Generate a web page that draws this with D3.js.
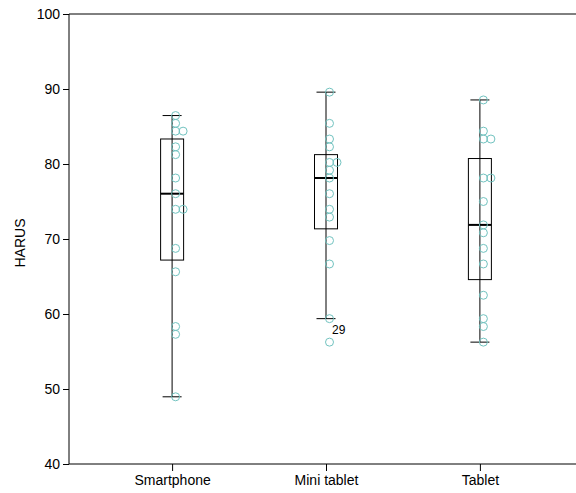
<!DOCTYPE html>
<html>
<head>
<meta charset="utf-8">
<script src="https://cdn.jsdelivr.net/npm/d3@7"></script>
<style>
  html, body { margin: 0; padding: 0; background: #fff; }
  svg { display: block; }
  text { font-family: "Liberation Sans", Arial, sans-serif; fill: #000; }
</style>
</head>
<body>
<svg id="chart" width="576" height="493"></svg>
<script>
// Device groups and HARUS scores per respondent
const categories = ["Smartphone", "Mini tablet", "Tablet"];
const smartphoneScores = [86.46, 85.42, 84.38, 84.38, 82.29, 81.25, 78.13, 76.04, 73.96, 73.96, 68.75, 65.63, 58.33, 57.29, 48.96];
const miniTabletScores = [89.58, 85.42, 83.33, 82.29, 80.21, 80.21, 79.17, 78.13, 76.04, 73.96, 72.92, 69.79, 66.67, 59.38, 56.25];
const tabletScores     = [88.54, 84.38, 83.33, 83.33, 78.13, 78.13, 75.00, 71.88, 70.83, 68.75, 66.67, 62.50, 59.38, 58.33, 56.25];
// Case numbers for the scores above (used to label outliers)
const miniTabletCases  = [17, 21, 25, 2, 5, 9, 12, 14, 18, 22, 27, 30, 24, 3, 29];
const yTicks = [40, 50, 60, 70, 80, 90, 100];
const yLabel = "HARUS";

const groups = [
  { name: categories[0], values: smartphoneScores, cases: null },
  { name: categories[1], values: miniTabletScores, cases: miniTabletCases },
  { name: categories[2], values: tabletScores, cases: null }
];

const svg = d3.select("#chart");
const mLeft = 69, mTop = 14, mBottom = 464, mRight = 583;

const y = d3.scaleLinear().domain([40, 100]).range([mBottom, mTop]);
const x = d3.scalePoint().domain(categories).range([mLeft, mRight]).padding(0.67);

// Tukey hinges: median of each half, each half including the median
function tukey(vals) {
  const s = vals.slice().sort(d3.ascending);
  const n = s.length;
  const half = Math.floor((n + 1) / 2);
  const med = d3.median(s);
  const lo = d3.median(s.slice(0, half));
  const hi = d3.median(s.slice(n - half));
  const iqr = hi - lo;
  const inside = s.filter(v => v >= lo - 1.5 * iqr && v <= hi + 1.5 * iqr);
  return { med, lo, hi, wLo: d3.min(inside), wHi: d3.max(inside), fenceLo: lo - 1.5 * iqr, fenceHi: hi + 1.5 * iqr };
}

// Axes
const yAxis = d3.axisLeft(y).tickValues(yTicks).tickSize(6).tickPadding(3).tickFormat(d3.format("d"));
const gy = svg.append("g").attr("transform", `translate(${mLeft},0)`).call(yAxis);
gy.select(".domain").remove();
gy.selectAll("line").attr("stroke", "#000");
gy.selectAll("text").style("font-size", "14px").attr("fill", "#000");

const xAxis = d3.axisBottom(x).tickSize(7).tickPadding(4);
const gx = svg.append("g").attr("transform", `translate(0,${mBottom})`).call(xAxis);
gx.select(".domain").remove();
gx.selectAll("line").attr("stroke", "#000");
gx.selectAll("text").style("font-size", "14px").attr("fill", "#000");

// Frame lines
svg.append("line").attr("x1", mLeft).attr("x2", mRight).attr("y1", y(100)).attr("y2", y(100)).attr("stroke", "#000");
svg.append("line").attr("x1", mLeft).attr("x2", mRight).attr("y1", y(40)).attr("y2", y(40)).attr("stroke", "#000");
svg.append("line").attr("x1", mLeft).attr("x2", mLeft).attr("y1", y(100)).attr("y2", y(40)).attr("stroke", "#000");

// Y axis title
svg.append("text")
  .attr("transform", `translate(25,${(mTop + mBottom) / 2 + 4}) rotate(-90)`)
  .attr("text-anchor", "middle")
  .style("font-size", "14px")
  .text(yLabel);

const boxHalf = 11.5, capHalf = 9.5;

groups.forEach(g => {
  const cx = x(g.name);
  const st = tukey(g.values);
  const gg = svg.append("g");

  // whisker
  gg.append("line").attr("x1", cx).attr("x2", cx).attr("y1", y(st.wLo)).attr("y2", y(st.wHi)).attr("stroke", "#000");
  [st.wLo, st.wHi].forEach(v => {
    gg.append("line").attr("x1", cx - capHalf).attr("x2", cx + capHalf).attr("y1", y(v)).attr("y2", y(v)).attr("stroke", "#000");
  });
  // box
  gg.append("rect").attr("x", cx - boxHalf).attr("width", boxHalf * 2)
    .attr("y", y(st.hi)).attr("height", y(st.lo) - y(st.hi))
    .attr("fill", "none").attr("stroke", "#000");
  // median
  gg.append("line").attr("x1", cx - boxHalf).attr("x2", cx + boxHalf).attr("y1", y(st.med)).attr("y2", y(st.med))
    .attr("stroke", "#000").attr("stroke-width", 2);

  // individual scores, repeated values set side by side
  const seen = new Map();
  g.values.forEach((v, i) => {
    const k = seen.get(v) || 0;
    seen.set(v, k + 1);
    gg.append("circle")
      .attr("cx", cx + 3.5 + 7.5 * k)
      .attr("cy", y(v))
      .attr("r", 4)
      .attr("fill", "none")
      .attr("stroke", "#72c3c0")
      .attr("stroke-width", 1);
    if (g.cases && (v < st.fenceLo || v > st.fenceHi)) {
      gg.append("text")
        .attr("x", cx + 6)
        .attr("y", y(v) - 8)
        .style("font-size", "12px")
        .text(g.cases[i]);
    }
  });
});
</script>
</body>
</html>
